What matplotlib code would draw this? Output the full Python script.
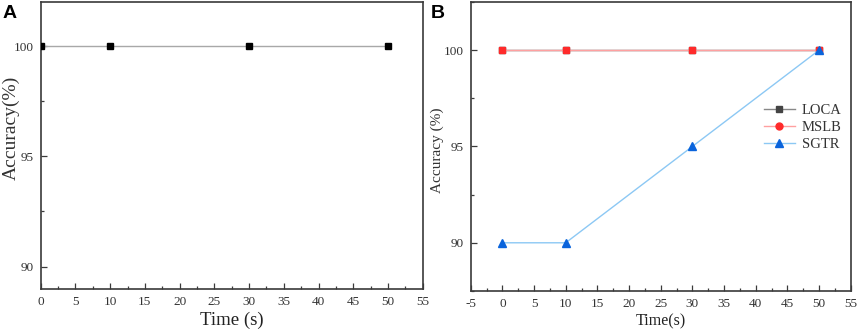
import matplotlib.pyplot as plt
from matplotlib.lines import Line2D
from matplotlib.ticker import MultipleLocator

plt.rcParams["axes.unicode_minus"] = False

# data
time_s = [0, 10, 30, 50]
loca_acc = [100, 100, 100, 100]
mslb_acc = [100, 100, 100, 100]
sgtr_acc = [90, 90, 95, 100]

SERIF = ["Liberation Serif", "Noto Sans CJK SC", "DejaVu Serif"]
SPINE = "#3a3a3a"


def style_axis(ax, xlim, ylim):
    ax.set_xlim(*xlim)
    ax.set_ylim(*ylim)
    ax.xaxis.set_major_locator(MultipleLocator(5))
    ax.xaxis.set_minor_locator(MultipleLocator(2.5))
    ax.yaxis.set_major_locator(MultipleLocator(5))
    ax.yaxis.set_minor_locator(MultipleLocator(2.5))
    ax.tick_params(which="both", direction="in", top=False, right=False, color=SPINE, width=0.9,
                   labelsize=9.5, labelcolor="#333333", labelfontfamily="Liberation Serif")
    ax.tick_params(which="major", length=4, pad=5)
    ax.tick_params(which="minor", length=2)
    for sp in ax.spines.values():
        sp.set_color(SPINE)
        sp.set_linewidth(1.2)


fig = plt.figure(figsize=(8.58, 3.31), dpi=100)
ax_a = fig.add_axes([0.0474, 0.128, 0.4453, 0.866])
ax_b = fig.add_axes([0.5486, 0.121, 0.4429, 0.873])

# panel A
ax_a.plot(time_s, loca_acc, color="#a8a8a8", lw=1.0, marker="s", ms=4.5,
          mfc="black", mec="black", zorder=3)
style_axis(ax_a, (0, 55), (89, 102))
ax_a.set_xlabel("Time (s)", family=SERIF, fontsize=13.5, color="#222222")
ax_a.set_ylabel("Accuracy(%)", family=SERIF, fontsize=14, color="#333333")
ax_a.xaxis.label.set_va("center")
ax_a.yaxis.label.set_va("center")
ax_a.xaxis.set_label_coords(0.5, -0.109)
ax_a.yaxis.set_label_coords(-0.078, 0.56)
fig.text(0.003, 0.985, "A", fontsize=14, fontweight="bold", family="Liberation Sans", va="top")

# panel B
ax_b.plot(time_s, loca_acc, color="#555555", lw=1.0, marker="s", ms=4, mfc="#444444", mec="#444444", zorder=2)
ax_b.plot(time_s, mslb_acc, color="#ffa0a0", lw=1.0, marker="s", ms=4.8,
          mfc="#ff2a2a", mec="#ff2a2a", zorder=3)
ax_b.plot(time_s, sgtr_acc, color="#8cc8f4", lw=1.0, marker="^", ms=5.5,
          mfc="#0a64dc", mec="#0a64dc", zorder=4)
style_axis(ax_b, (-5, 55), (87.5, 102.5))
ax_b.set_xlabel("Time(s)", family=SERIF, fontsize=11.5, color="#222222")
ax_b.set_ylabel("Accuracy (%)", family=SERIF, fontsize=11, color="#333333")
ax_b.xaxis.label.set_va("center")
ax_b.yaxis.label.set_va("center")
ax_b.xaxis.set_label_coords(0.5, -0.107)
ax_b.yaxis.set_label_coords(-0.089, 0.488)
fig.text(0.5015, 0.985, "B", fontsize=14, fontweight="bold", family="Liberation Sans", va="top")

handles = [
    Line2D([], [], color="#888888", lw=1.0, marker="s", ms=4, mfc="#444444", mec="#444444"),
    Line2D([], [], color="#ffa0a0", lw=1.0, marker="o", ms=5, mfc="#ff2a2a", mec="#ff2a2a"),
    Line2D([], [], color="#8cc8f4", lw=1.0, marker="^", ms=5.5, mfc="#0a64dc", mec="#0a64dc"),
]
leg = ax_b.legend(handles, ["LOCA", "MSLB", "SGTR"], loc="center", bbox_to_anchor=(0.874, 0.565),
                  frameon=False, prop={"family": SERIF, "size": 10.5}, handlelength=2.1,
                  handletextpad=0.5, labelspacing=0.25)
for t in leg.get_texts():
    t.set_color("#333333")

fig.savefig("out.png", dpi=100)
